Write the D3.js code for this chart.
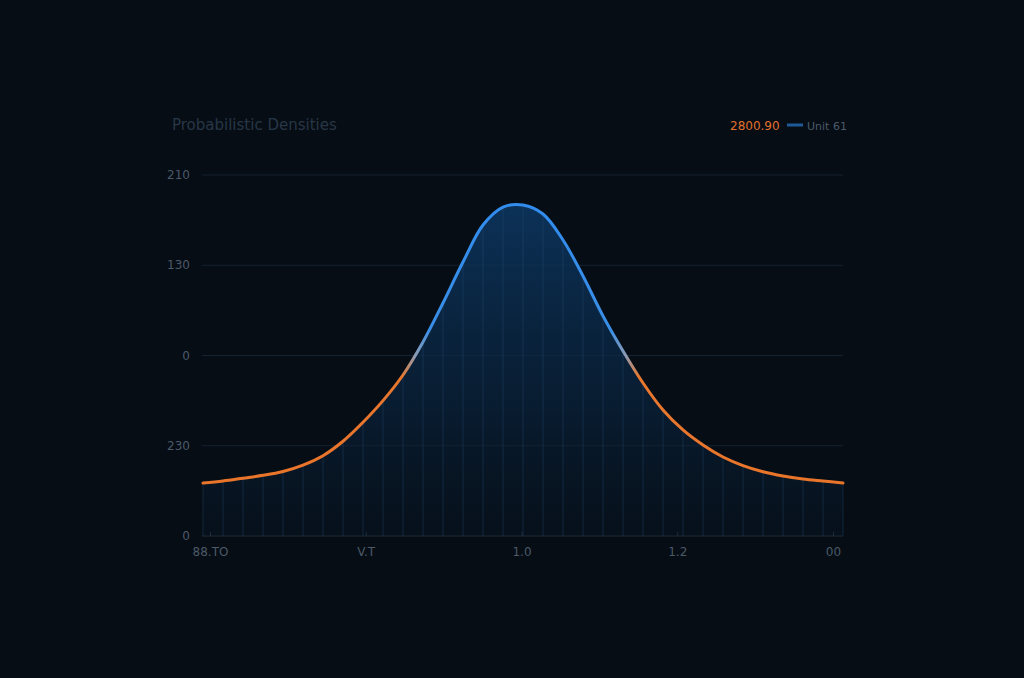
<!DOCTYPE html>
<html>
<head>
<meta charset="utf-8">
<script src="https://cdn.jsdelivr.net/npm/d3@7"></script>
<style>
  html, body { margin: 0; padding: 0; background: #060d15; }
  svg { display: block; }
</style>
</head>
<body>
<svg></svg>
<script>
// curve samples, one every step along x (33 samples)
const densityValues = [
  0.587, 0.609, 0.640, 0.672, 0.715, 0.785, 0.890, 1.050, 1.260, 1.500,
  1.784, 2.150, 2.582, 3.036, 3.446, 3.645, 3.668, 3.568, 3.280, 2.881,
  2.438, 2.050, 1.695, 1.396, 1.175, 1.008, 0.875, 0.780, 0.712, 0.665,
  0.632, 0.609, 0.587
];
const xTickLabels = ["88.TO", "V.T", "1.0", "1.2", "00"];
const yTickValues = [4, 3, 2, 1, 0];
const yTickLabels = ["210", "130", "0", "230", "0"];
const titleText = "Probabilistic Densities";
const legendValue = "2800.90";
const legendLabel = "Unit 61";

var w = 1024;
var h = 678;
const margin = { top: 175, bottom: 142, left: 202, right: 181 };
const innerWidth = w - margin.left - margin.right;
const innerHeight = h - margin.top - margin.bottom;

let svg = d3.select("svg").attr("width", w).attr("height", h);
svg.append("rect").attr("width", w).attr("height", h).attr("fill", "#060d15");

const g = svg.append("g")
  .attr("transform", `translate(${margin.left}, ${margin.top})`);

let xScale = d3.scaleLinear()
  .domain([0, densityValues.length - 1])
  .range([1, innerWidth]);
let yScale = d3.scaleLinear()
  .domain([0, 4])
  .range([innerHeight, 0]);
let xLabelScale = d3.scalePoint()
  .domain(xTickLabels)
  .range([8, innerWidth - 10]);

const defs = svg.append("defs");

// stroke goes blue near the top, orange down the tails
let strokeGrad = defs.append("linearGradient")
  .attr("id", "strokeGrad")
  .attr("gradientUnits", "userSpaceOnUse")
  .attr("x1", 0).attr("x2", 0)
  .attr("y1", yScale(4)).attr("y2", yScale(0));
strokeGrad.append("stop").attr("offset", 0).attr("stop-color", "#2f8cf0");
strokeGrad.append("stop").attr("offset", 0.43).attr("stop-color", "#3a8ee6");
strokeGrad.append("stop").attr("offset", 0.5).attr("stop-color", "#8c9cb4");
strokeGrad.append("stop").attr("offset", 0.56).attr("stop-color", "#e8772e");
strokeGrad.append("stop").attr("offset", 1).attr("stop-color", "#ea7428");

let fillGrad = defs.append("linearGradient")
  .attr("id", "fillGrad")
  .attr("gradientUnits", "userSpaceOnUse")
  .attr("x1", 0).attr("x2", 0)
  .attr("y1", yScale(3.7)).attr("y2", yScale(0));
fillGrad.append("stop").attr("offset", 0).attr("stop-color", "#0d3864").attr("stop-opacity", 0.85);
fillGrad.append("stop").attr("offset", 0.6).attr("stop-color", "#0a2744").attr("stop-opacity", 0.6);
fillGrad.append("stop").attr("offset", 1).attr("stop-color", "#08182a").attr("stop-opacity", 0.3);

// gridlines
g.selectAll(".grid")
  .data(yTickValues)
  .enter()
  .append("line")
  .attr("x1", 0)
  .attr("x2", innerWidth)
  .attr("y1", d => yScale(d))
  .attr("y2", d => yScale(d))
  .attr("stroke", d => d == 0 ? "#1f2e3d" : "#152230")
  .attr("stroke-width", 1);

// y labels
g.selectAll(".ylab")
  .data(yTickValues)
  .enter()
  .append("text")
  .attr("x", -12)
  .attr("y", d => yScale(d) + 4)
  .attr("text-anchor", "end")
  .style("font-family", "DejaVu Sans, sans-serif")
  .style("font-size", "12px")
  .attr("fill", "#4b5968")
  .text((d, i) => yTickLabels[i]);

let area = d3.area()
  .x((d, i) => xScale(i))
  .y0(yScale(0))
  .y1(d => yScale(d))
  .curve(d3.curveCatmullRom);
let line = d3.line()
  .x((d, i) => xScale(i))
  .y(d => yScale(d))
  .curve(d3.curveCatmullRom);

g.append("path")
  .datum(densityValues)
  .attr("d", area)
  .attr("fill", "url(#fillGrad)");

// sample drop lines
g.selectAll(".drop")
  .data(densityValues)
  .enter()
  .append("line")
  .attr("x1", (d, i) => xScale(i))
  .attr("x2", (d, i) => xScale(i))
  .attr("y1", d => yScale(d))
  .attr("y2", yScale(0))
  .attr("stroke", "#2c5478")
  .attr("stroke-opacity", 0.35)
  .attr("stroke-width", 1);

g.append("path")
  .datum(densityValues)
  .attr("d", line)
  .attr("fill", "none")
  .attr("stroke", "url(#strokeGrad)")
  .attr("stroke-width", 3)
  .attr("stroke-linecap", "round");

// x axis
let xAxisG = g.append("g")
  .attr("transform", `translate(0,${innerHeight})`)
  .call(d3.axisBottom(xLabelScale).tickSize(-4).tickPadding(11));
xAxisG.select(".domain").remove();
xAxisG.selectAll(".tick line").attr("stroke", "#1f2e3d");
xAxisG.selectAll("text")
  .style("font-family", "DejaVu Sans, sans-serif")
  .style("font-size", "12px")
  .attr("fill", "#4b5968");

// title
svg.append("text")
  .attr("x", 172)
  .attr("y", 130)
  .style("font-family", "DejaVu Sans, sans-serif")
  .style("font-size", "15px")
  .attr("fill", "#283645")
  .text(titleText);

// legend
const legendG = svg.append("g").attr("transform", "translate(730, 130)");
legendG.append("text")
  .attr("x", 0)
  .attr("y", 0)
  .style("font-family", "DejaVu Sans, sans-serif")
  .style("font-size", "12px")
  .attr("fill", "#e0702c")
  .text(legendValue);
legendG.append("line")
  .attr("x1", 57).attr("x2", 73)
  .attr("y1", -5).attr("y2", -5)
  .attr("stroke", "#1e5a98")
  .attr("stroke-width", 3);
legendG.append("text")
  .attr("x", 77)
  .attr("y", 0)
  .style("font-family", "DejaVu Sans, sans-serif")
  .style("font-size", "11px")
  .attr("fill", "#4b5968")
  .text(legendLabel);
</script>
</body>
</html>
